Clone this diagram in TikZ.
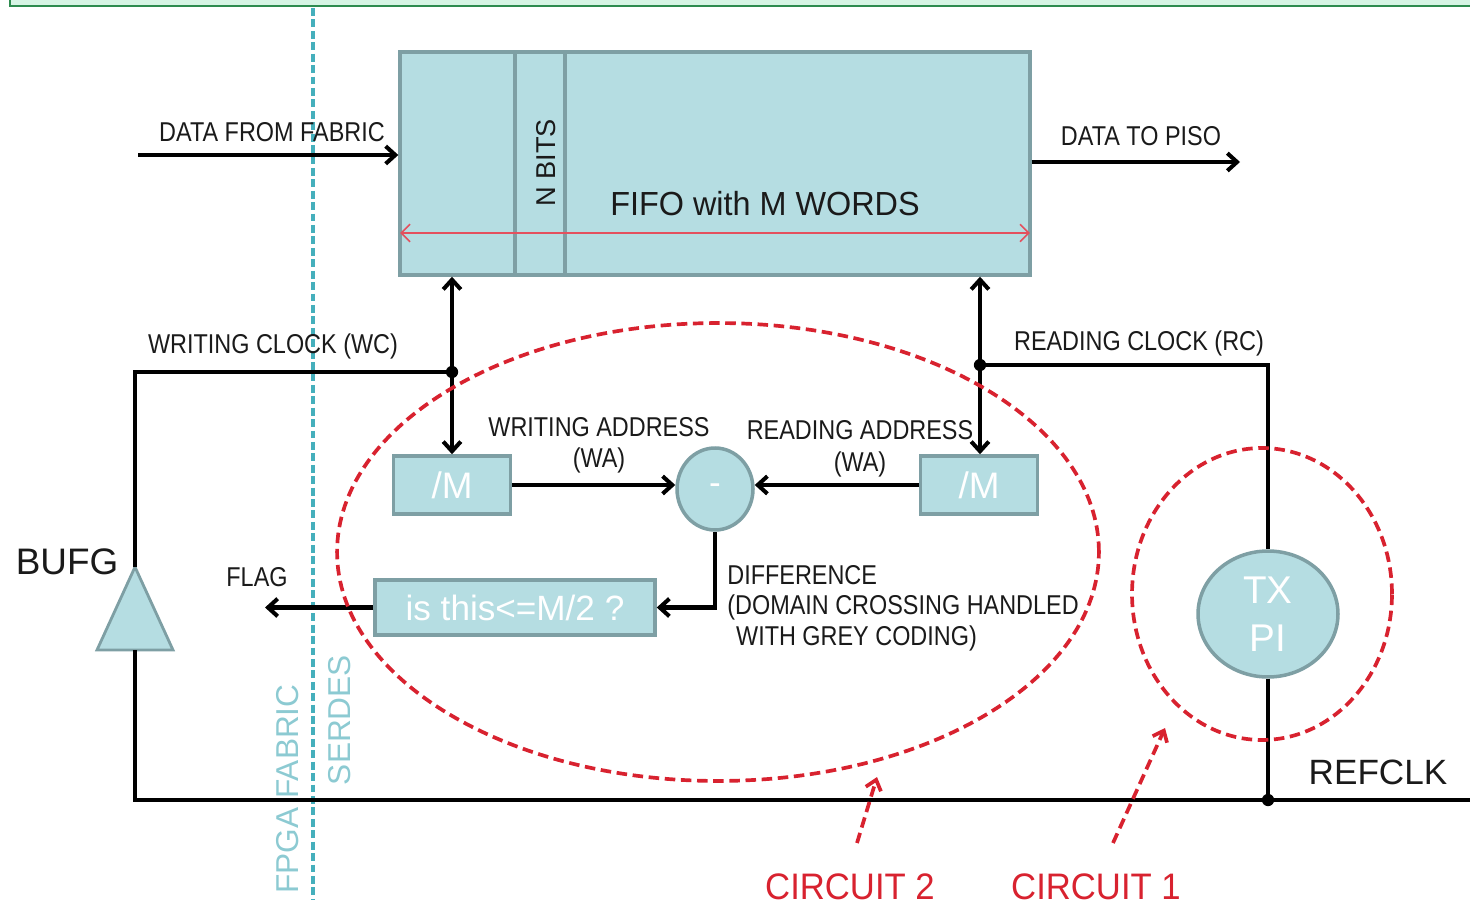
\documentclass[tikz,border=0pt]{standalone}
\usepackage{fontspec}
\setmainfont{Liberation Sans}
\usetikzlibrary{arrows.meta,shapes.geometric,calc}

\definecolor{bandfill}{HTML}{D6F4E4}
\definecolor{bandedge}{HTML}{2E8B4F}
\definecolor{boxfill}{HTML}{B5DDE2}
\definecolor{boxedge}{HTML}{7E9FA4}
\definecolor{labelgray}{HTML}{1A1A1A}
\definecolor{cred}{HTML}{D8222F}
\definecolor{pinkred}{HTML}{E4505E}
\definecolor{border}{HTML}{45AFBC}
\definecolor{zonetext}{HTML}{8CCAD2}

% slightly condensed label text
\newcommand{\nar}[1]{\scalebox{0.86}[1]{#1}}

\tikzset{
  lbl/.style={font=\fontsize{15.5}{17.5}\selectfont, text=labelgray, inner sep=0pt},
  blk/.style={draw=boxedge, fill=boxfill, line width=2pt, inner sep=0pt, text=white},
  wire/.style={line width=2.3pt, draw=black},
  arr/.style={wire, -{Straight Barb[length=5.5pt,width=10pt]}},
  jdot/.style={fill=black},
  circ/.style={draw=cred, line width=2.1pt, dash pattern=on 6pt off 3.2pt},
  circarr/.style={circ, -{Straight Barb[length=5.5pt,width=9pt]}},
  zone/.style={font=\fontsize{18}{20}\selectfont, text=zonetext, inner sep=0pt, rotate=90},
  big/.style={font=\fontsize{21}{24}\selectfont, inner sep=0pt},
}

\begin{document}
\begin{tikzpicture}[x=0.02cm, y=-0.02cm]
\useasboundingbox (0,0) rectangle (1470,905);

% top band
\draw[fill=bandfill, draw=bandedge, line width=1.5pt] (10,-20) rectangle (1490,6);

% fabric / serdes border
\draw[border, line width=1.9pt, dash pattern=on 4.5pt off 2pt] (313,8) -- (313,900);
\node[zone] (fpga) at (288,789) {FPGA FABRIC};
\node[zone] (serdes) at (340,720) {SERDES};

% FIFO
\node[blk, minimum width=12.6cm, minimum height=4.46cm] (fifo) at (715,163.5) {};
\draw[boxedge, line width=2pt] (515,52) -- (515,275) (565,52) -- (565,275);
\node[font=\fontsize{15.5}{17}\selectfont, text=labelgray, rotate=90, inner sep=0pt] (nbits) at (546,163) {N BITS};
\node[font=\fontsize{19}{22}\selectfont, text=labelgray, inner sep=0pt] (fifotxt) at (765,204) {\scalebox{0.97}[1]{FIFO with M WORDS}};
\draw[pinkred, line width=0.9pt, {Straight Barb[length=5pt,width=10pt]}-{Straight Barb[length=5pt,width=10pt]}]
  ([xshift=1pt]fifo.west |- 0,233) -- ([xshift=-1pt]fifo.east |- 0,233);

% data in / out
\coordinate (din) at (138,155);
\coordinate (dout) at (1240,162);
\draw[arr] (din) -- (din -| fifo.west);
\draw[arr] (dout -| fifo.east) -- (dout);
\node[lbl] (dinl) at (272,132) {\nar{DATA FROM FABRIC}};
\node[lbl] (doutl) at (1141,136) {\nar{DATA TO PISO}};

% address counters and subtractor
\node[blk, minimum width=2.34cm, minimum height=1.16cm, font=\fontsize{21}{24}\selectfont] (mL) at (452,485) {/M};
\node[blk, minimum width=2.34cm, minimum height=1.16cm, font=\fontsize{21}{24}\selectfont] (mR) at (979,485) {/M};
\node[blk, ellipse, minimum width=1.52cm, minimum height=1.64cm, font=\fontsize{20}{24}\selectfont] (sub) at (715,489) {-};
\node[blk, minimum width=5.6cm, minimum height=1.1cm, font=\fontsize{20}{24}\selectfont] (cmp) at (515,607.5) {is this<=M/2 ?};

\draw[arr] (mL.east) -- (mL.east -| sub.west);
\draw[arr] (mR.west) -- (mR.west -| sub.east);
\draw[arr] (sub.south) |- (cmp.east);
\coordinate (flagend) at (265,607.5);
\draw[arr] (cmp.west) -- (flagend);

\node[lbl, align=center, font=\fontsize{15.5}{17.6}\selectfont] (wal) at (599,445) {\nar{WRITING ADDRESS}\\\nar{(WA)}};
\node[lbl, align=center, font=\fontsize{15.5}{18}\selectfont] (ral) at (860,449) {\nar{READING ADDRESS}\\\nar{(WA)}};
\node[lbl] (flag) at (257,577) {\nar{FLAG}};
\node[lbl, align=left, anchor=west, font=\fontsize{15.5}{17.3}\selectfont] (diff) at (727,608)
  {\nar{DIFFERENCE}\\\nar{(DOMAIN CROSSING HANDLED}\\\hspace*{5pt}\nar{WITH GREY CODING)}};

% BUFG
\coordinate (bufgA) at (135,567);
\coordinate (bufgB) at (135,650);
\filldraw[fill=boxfill, draw=boxedge, line width=1.6pt] (bufgA) -- (173,650) -- (97,650) -- cycle;
\node[big, text=labelgray] (bufgl) at (67,562) {BUFG};

% writing clock
\coordinate (wcj) at (452,372);
\draw[wire] (bufgA) |- (wcj);
\draw[arr] (wcj) -- (wcj |- fifo.south);
\draw[arr] (wcj) -- (mL.north);
\fill[jdot] (wcj) circle (3.5pt);
\node[lbl] (wcl) at (273,346) {\nar{WRITING CLOCK (WC)}};

% TX PI and reading clock
\node[blk, ellipse, minimum width=2.8cm, minimum height=2.52cm, align=center, font=\fontsize{22}{27}\selectfont] (txpi) at (1268,614) {TX\\PI};
\coordinate (rcj) at (980,365);
\draw[wire] (rcj) -| (txpi.north);
\draw[arr] (rcj) -- (rcj |- fifo.south);
\draw[arr] (rcj) -- (rcj |- mR.north);
\fill[jdot] (rcj) circle (3.5pt);
\node[lbl] (rcl) at (1139,343) {\nar{READING CLOCK (RC)}};

% reference clock
\coordinate (refj) at (1268,800);
\coordinate (refin) at (1470,800);
\draw[wire] (txpi.south) -- (refj);
\draw[wire] (bufgB) |- (refj) -- (refin);
\fill[jdot] (refj) circle (3.5pt);
\node[big, text=labelgray, font=\fontsize{20}{24}\selectfont] (refl) at (1378,772) {REFCLK};

% circuit outlines
\draw[circ] (718,552) ellipse [x radius=7.62cm, y radius=4.58cm];
\draw[circ] (1262,594) ellipse [x radius=2.6cm, y radius=2.92cm];

\node[big, text=cred, font=\fontsize{21}{24}\selectfont] (c2) at (850,887) {\scalebox{0.94}[1]{CIRCUIT 2}};
\node[big, text=cred, font=\fontsize{21}{24}\selectfont] (c1) at (1096,887) {\scalebox{0.94}[1]{CIRCUIT 1}};
\coordinate (c2tail) at (857,843);
\coordinate (c2tip) at (877,777);
\coordinate (c1tail) at (1113,843);
\coordinate (c1tip) at (1165,728);
\draw[circarr] (c2tail) -- (c2tip);
\draw[circarr] (c1tail) -- (c1tip);
\end{tikzpicture}
\end{document}
